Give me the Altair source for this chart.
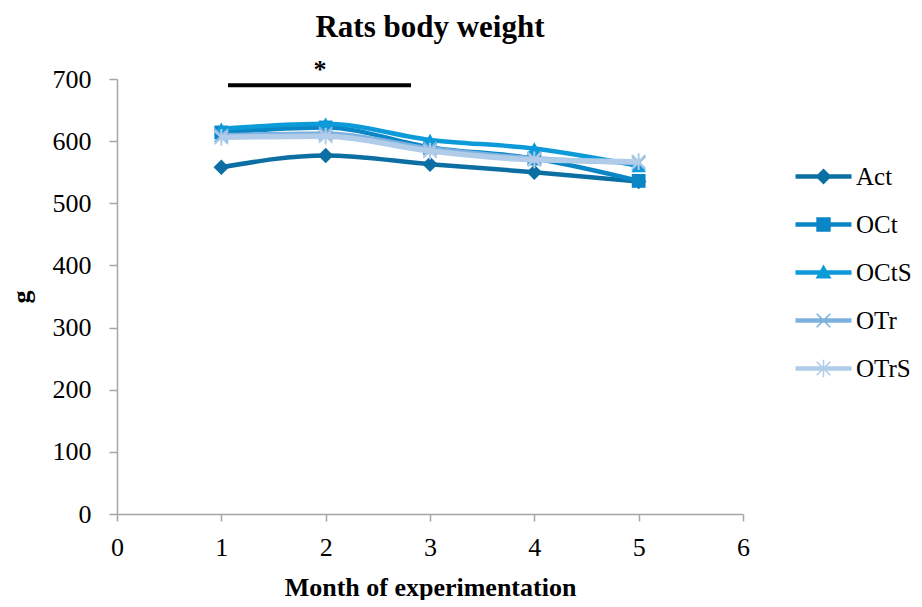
import altair as alt
import pandas as pd
import math

# ---- data ----
months = [1, 2, 3, 4, 5]
series_names = ["Act", "OCt", "OCtS", "OTr", "OTrS"]
act = [558, 577, 563, 550, 535]
oct_ = [614, 622, 590, 572, 536]
octs = [620, 628, 602, 588, 560]
otr = [609, 612, 588, 572, 565]
otrs = [606, 608, 584, 570, 567]
values = [act, oct_, octs, otr, otrs]

sig_x_start = [1.064]
sig_x_end = [2.818]
sig_y = [690]
sig_label = ["*"]
sig_label_x = [1.946]
sig_label_y = [715]

colors = ["#0B6FA3", "#0A85C5", "#0C9AD9", "#7DB2DF", "#B0CCE9"]
FONT = "Liberation Serif"

rows = []
for name, vals in zip(series_names, values):
    for m, v in zip(months, vals):
        rows.append({"Series": name, "month": m, "weight": v})
df = pd.DataFrame(rows)

# ---- marker paths ----
def poly(pts):
    area = 0
    for i in range(len(pts)):
        x0, y0 = pts[i]
        x1, y1 = pts[(i + 1) % len(pts)]
        area += x0 * y1 - x1 * y0
    if area < 0:
        pts = pts[::-1]
    return "M" + "L".join(f"{x:.3f},{y:.3f}" for x, y in pts) + "Z"

def bar(x0, y0, x1, y1, t):
    dx, dy = x1 - x0, y1 - y0
    L = math.hypot(dx, dy)
    nx, ny = -dy / L * t, dx / L * t
    return poly([(x0 + nx, y0 + ny), (x1 + nx, y1 + ny), (x1 - nx, y1 - ny), (x0 - nx, y0 - ny)])

line_seg = bar(-3.5, 0, 3.5, 0, 0.28)
leg_shapes = [
    line_seg + poly([(0, -1), (1, 0), (0, 1), (-1, 0)]),
    line_seg + poly([(-0.9, -0.9), (0.9, -0.9), (0.9, 0.9), (-0.9, 0.9)]),
    line_seg + poly([(0, -1), (1, 0.75), (-1, 0.75)]),
    line_seg + bar(-0.85, -0.85, 0.85, 0.85, 0.1) + bar(-0.85, 0.85, 0.85, -0.85, 0.1),
    line_seg + bar(-0.85, -0.85, 0.85, 0.85, 0.1) + bar(-0.85, 0.85, 0.85, -0.85, 0.1)
    + bar(0, -1.1, 0, 1.1, 0.1),
]

X_PATH = "M-1,-1L1,1M-1,1L1,-1"
AST_PATH = "M-1,-1L1,1M-1,1L1,-1M0,-1.25L0,1.25"
point_specs = [
    dict(shape="diamond", size=240, filled=True),
    dict(shape="square", size=190, filled=True),
    dict(shape="triangle-up", size=210, filled=True),
    dict(shape=X_PATH, size=180, filled=False, strokeWidth=2),
    dict(shape=AST_PATH, size=180, filled=False, strokeWidth=2),
]
line_widths = [4.5, 4.5, 4.5, 5, 5.5]

x_enc = alt.X("month:Q", scale=alt.Scale(domain=[0, 6], nice=False),
              axis=alt.Axis(values=[0, 1, 2, 3, 4, 5, 6], format="d",
                            title="Month of experimentation", labelFlush=False,
                            grid=False, tickSize=7, labelPadding=13, titlePadding=14))
y_enc = alt.Y("weight:Q", scale=alt.Scale(domain=[0, 700], nice=False),
              axis=alt.Axis(values=[0, 100, 200, 300, 400, 500, 600, 700], format="d",
                            title="g", labelFlush=False,
                            grid=False, tickSize=8, labelPadding=18, titlePadding=18))

base = alt.Chart(df)
layers = []
for i, name in enumerate(series_names):
    sub = base.transform_filter(alt.datum.Series == name)
    layers.append(sub.mark_line(color=colors[i], strokeWidth=line_widths[i],
                                interpolate="monotone").encode(x=x_enc, y=y_enc))
    spec = point_specs[i]
    kw = dict(shape=spec["shape"], size=spec["size"], filled=spec["filled"],
              color=colors[i], opacity=1)
    if not spec["filled"]:
        kw["strokeWidth"] = spec["strokeWidth"]
    layers.append(sub.mark_point(**kw).encode(x=x_enc, y=y_enc))

legend_layer = base.transform_filter(alt.datum.month < 0).mark_point(filled=True, opacity=1).encode(
    x=x_enc, y=y_enc,
    color=alt.Color("Series:N", scale=alt.Scale(domain=series_names, range=colors),
                    legend=alt.Legend(title=None, orient="none", legendX=694, legendY=85,
                                      symbolSize=256, symbolStrokeWidth=0, labelOffset=20,
                                      rowPadding=22, labelFont=FONT, labelFontSize=25,
                                      labelColor="black")),
    shape=alt.Shape("Series:N", scale=alt.Scale(domain=series_names, range=leg_shapes)),
)

sig_df = pd.DataFrame({"x": sig_x_start, "x2": sig_x_end, "y": sig_y})
sig_rule = alt.Chart(sig_df).mark_rule(color="black", strokeWidth=4).encode(
    x="x:Q", x2="x2:Q", y="y:Q")
sig_txt_df = pd.DataFrame({"x": sig_label_x, "y": sig_label_y, "t": sig_label})
sig_text = alt.Chart(sig_txt_df).mark_text(font=FONT, fontSize=26, fontWeight="bold",
                                           color="black").encode(x="x:Q", y="y:Q", text="t:N")

chart = alt.layer(*layers, legend_layer, sig_rule, sig_text).properties(
    width=626, height=435,
    title=alt.Title("Rats body weight", font=FONT, fontSize=31, fontWeight="bold",
                    color="black", offset=13),
    padding={"left": 0, "top": 3, "right": 0, "bottom": 0},
).configure_view(stroke=None).configure_axis(
    domainColor="#A6A6A6", tickColor="#A6A6A6", domainWidth=1.5, tickWidth=1.5,
    labelFont=FONT, labelFontSize=26, labelColor="black",
    titleFont=FONT, titleFontSize=26, titleFontWeight="bold", titleColor="black",
)

chart.save("out.html", embed_options={"renderer": "svg", "actions": False})
